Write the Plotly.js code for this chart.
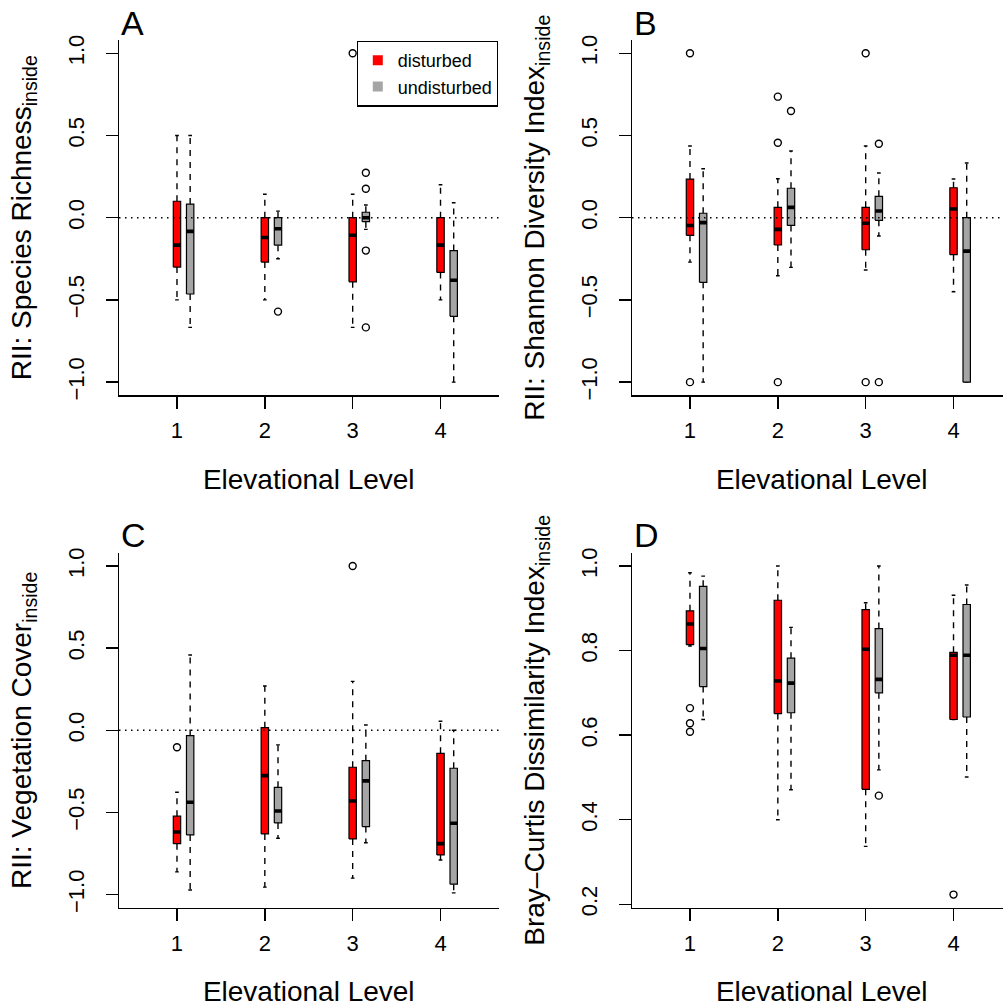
<!DOCTYPE html>
<html><head><meta charset="utf-8">
<script src="https://cdn.plot.ly/plotly-3.0.1.min.js"></script>
<style>html,body{margin:0;padding:0;overflow:hidden;background:#fff}#chart{width:1012px;height:1008px}</style>
</head><body><div id="chart"></div>
<script>
// ---------------- data ----------------
const levels = [1, 2, 3, 4];
const tickLabels = ['1', '2', '3', '4'];
const groupNames = ['disturbed', 'undisturbed'];
const groupColors = ['#FF0000', '#A5A5A5'];
const referenceLevel = 0;

// each row: [lower whisker, Q1, median, Q3, upper whisker] for levels 1..4
const richnessDisturbed   = [[-0.5, -0.30, -0.167, 0.10, 0.50], [-0.5, -0.27, -0.12, 0.0, 0.143], [-0.667, -0.39, -0.107, 0.0, 0.143], [-0.5, -0.333, -0.167, 0.0, 0.20]];
const richnessUndisturbed = [[-0.667, -0.464, -0.083, 0.083, 0.50], [-0.25, -0.167, -0.067, 0.0, 0.04], [-0.071, -0.024, 0.0, 0.033, 0.077], [-1.0, -0.60, -0.38, -0.20, 0.091]];
const richnessDisturbedOut   = [[], [], [1.0], []];
const richnessUndisturbedOut = [[], [-0.571], [0.273, 0.176, -0.2, -0.667], []];

const shannonDisturbed   = [[-0.27, -0.107, -0.047, 0.235, 0.436], [-0.353, -0.166, -0.071, 0.063, 0.237], [-0.318, -0.195, -0.034, 0.063, 0.436], [-0.45, -0.225, 0.053, 0.182, 0.235]];
const shannonUndisturbed = [[-1.0, -0.393, -0.03, 0.027, 0.298], [-0.302, -0.047, 0.063, 0.179, 0.406], [-0.111, -0.016, 0.041, 0.13, 0.272], [-1.0, -1.0, -0.203, 0.0, 0.333]];
const shannonDisturbedOut   = [[1.0, -1.0], [0.736, 0.456, -1.0], [1.0, -1.0], []];
const shannonUndisturbedOut = [[], [0.649], [0.45, -1.0], []];

const coverDisturbed   = [[-0.862, -0.69, -0.619, -0.523, -0.377], [-0.955, -0.631, -0.276, 0.016, 0.27], [-0.90, -0.661, -0.43, -0.225, 0.298], [-0.79, -0.759, -0.69, -0.14, 0.055]];
const coverUndisturbed = [[-0.972, -0.637, -0.438, -0.032, 0.458], [-0.657, -0.564, -0.491, -0.347, -0.089], [-0.685, -0.586, -0.308, -0.185, 0.032], [-0.99, -0.937, -0.566, -0.231, 0.0]];
const coverDisturbedOut   = [[-0.103], [], [1.0], []];
const coverUndisturbedOut = [[], [], [], []];

const brayDisturbed   = [[0.811, 0.814, 0.863, 0.894, 0.984], [0.40, 0.651, 0.728, 0.919, 1.0], [0.337, 0.472, 0.803, 0.897, 0.913], [0.637, 0.637, 0.789, 0.796, 0.931]];
const brayUndisturbed = [[0.637, 0.715, 0.805, 0.952, 0.976], [0.471, 0.653, 0.723, 0.782, 0.855], [0.518, 0.70, 0.732, 0.852, 1.0], [0.501, 0.643, 0.789, 0.909, 0.955]];
const brayDisturbedOut   = [[0.664, 0.628, 0.608], [], [], [0.223]];
const brayUndisturbedOut = [[], [], [0.457], []];

const panelLetters = ['A', 'B', 'C', 'D'];
const yTitles = ['RII: Species Richness<sub>inside</sub>', 'RII: Shannon Diversity Index<sub>inside</sub>',
                 'RII: Vegetation Cover<sub>inside</sub>', 'Bray\u2013Curtis Dissimilarity Index<sub>inside</sub>'];
const xTitle = 'Elevational Level';

// ---------------- layout geometry ----------------
const W = 1012, H = 1008;
const FONT = 'Liberation Sans, Arial, Helvetica, sans-serif';
const groupOffset = [0, 0.15];
const boxHalf = 0.042, stapleHalf = 0.021;

const panels = [
  {sx: '', dist: richnessDisturbed, und: richnessUndisturbed, dOut: richnessDisturbedOut, uOut: richnessUndisturbedOut,
   xd: [119, 498.5], yd: [40.1, 395.3], yr: [-1.08, 1.08], dtick: 0.5, ref: true},
  {sx: '2', dist: shannonDisturbed, und: shannonUndisturbed, dOut: shannonDisturbedOut, uOut: shannonUndisturbedOut,
   xd: [632, 1011.5], yd: [40.1, 395.3], yr: [-1.08, 1.08], dtick: 0.5, ref: true},
  {sx: '3', dist: coverDisturbed, und: coverUndisturbed, dOut: coverDisturbedOut, uOut: coverUndisturbedOut,
   xd: [119, 498.5], yd: [552.9, 907.7], yr: [-1.08, 1.08], dtick: 0.5, ref: true},
  {sx: '4', dist: brayDisturbed, und: brayUndisturbed, dOut: brayDisturbedOut, uOut: brayUndisturbedOut,
   xd: [632, 1011.5], yd: [552.9, 907.7], yr: [0.192, 1.031], dtick: 0.2, ref: false}
];

const traces = [];
const layout = {
  width: W, height: H, margin: {l: 0, r: 0, t: 0, b: 0},
  paper_bgcolor: '#fff', plot_bgcolor: '#fff',
  font: {family: FONT, color: '#000'},
  showlegend: true,
  legend: {x: 498.5 / W, xanchor: 'right', y: 1 - 40.7 / H, yanchor: 'top', bgcolor: '#fff',
           bordercolor: '#000', borderwidth: 1.3, font: {size: 18, family: FONT}, tracegroupgap: 0},
  shapes: [], annotations: []
};

panels.forEach((p, pi) => {
  const xa = 'x' + p.sx, ya = 'y' + p.sx;
  [p.dist, p.und].forEach((stats, gi) => {
    const outs = gi === 0 ? p.dOut : p.uOut;
    const wx = [], wy = [], sx = [], sy = [], bx = [], by = [], mx = [], my = [], ox = [], oy = [];
    stats.forEach((s, li) => {
      const c = levels[li] + groupOffset[gi];
      const [lo, q1, med, q3, hi] = s;
      wx.push(c, c, null, c, c, null); wy.push(q3, hi, null, q1, lo, null);
      sx.push(c - stapleHalf, c + stapleHalf, null, c - stapleHalf, c + stapleHalf, null);
      sy.push(hi, hi, null, lo, lo, null);
      bx.push(c - boxHalf, c + boxHalf, c + boxHalf, c - boxHalf, c - boxHalf, null);
      by.push(q1, q1, q3, q3, q1, null);
      mx.push(c - boxHalf, c + boxHalf, null); my.push(med, med, null);
      outs[li].forEach(v => { ox.push(c); oy.push(v); });
    });
    const common = {xaxis: xa, yaxis: ya, showlegend: false, hoverinfo: 'skip'};
    traces.push(Object.assign({type: 'scatter', mode: 'lines', x: wx, y: wy, line: {color: '#000', width: 1.4, dash: '6px,6px'}}, common));
    traces.push(Object.assign({type: 'scatter', mode: 'lines', x: sx, y: sy, line: {color: '#000', width: 1.4}}, common));
    traces.push(Object.assign({type: 'scatter', mode: 'lines', x: bx, y: by, fill: 'toself', fillcolor: groupColors[gi], line: {color: '#000', width: 1.2}}, common));
    traces.push(Object.assign({type: 'scatter', mode: 'lines', x: mx, y: my, line: {color: '#000', width: 3.6}}, common));
    traces.push(Object.assign({type: 'scatter', mode: 'markers', x: ox, y: oy, marker: {symbol: 'circle-open', size: 7, color: '#000', line: {width: 1.4, color: '#000'}}}, common));
  });

  const xdom = [p.xd[0] / W, p.xd[1] / W];
  const ydom = [(H - p.yd[1]) / H, (H - p.yd[0]) / H];
  layout['xaxis' + p.sx] = {
    domain: xdom, anchor: ya, range: [0.34, 4.66], showline: true, linecolor: '#000', linewidth: 1.5,
    ticks: 'outside', ticklen: 12, tickwidth: 1.5, tickcolor: '#000', tickvals: levels, ticktext: tickLabels,
    tickfont: {size: 22, family: FONT}, ticklabelstandoff: 3, showgrid: false, zeroline: false,
    title: {text: xTitle, font: {size: 28, family: FONT}, standoff: 27}
  };
  layout['yaxis' + p.sx] = {
    domain: ydom, anchor: xa, range: p.yr, showline: true, linecolor: '#000', linewidth: 1.5,
    ticks: 'outside', ticklen: 12, tickwidth: 1.5, tickcolor: '#000', tick0: 0, dtick: p.dtick,
    tickformat: '.1f', tickangle: -90, tickfont: {size: 22, family: FONT}, ticklabelstandoff: 13,
    showgrid: false, zeroline: false,
    title: {text: yTitles[pi], font: {size: 28, family: FONT}, standoff: 24}
  };
  if (p.ref) {
    layout.shapes.push({type: 'line', xref: xa + ' domain', yref: ya, x0: 0, x1: 1, y0: referenceLevel, y1: referenceLevel,
                        line: {color: '#000', width: 1.4, dash: '1.5px,4.5px'}});
  }
  layout.annotations.push({text: panelLetters[pi], xref: 'paper', yref: 'paper', x: p.xd[0] / W, xanchor: 'left',
    y: 1 - (p.yd[0] - 17.5) / H, yanchor: 'middle', showarrow: false, font: {size: 34, family: FONT}});
});

groupNames.forEach((g, gi) => {
  traces.push({type: 'scatter', mode: 'markers', x: [null], y: [null], name: g, xaxis: 'x', yaxis: 'y',
               marker: {symbol: 'square', size: 10, color: groupColors[gi]}, showlegend: true, hoverinfo: 'skip'});
});

Plotly.newPlot('chart', traces, layout, {displayModeBar: false, staticPlot: true});
</script></body></html>
